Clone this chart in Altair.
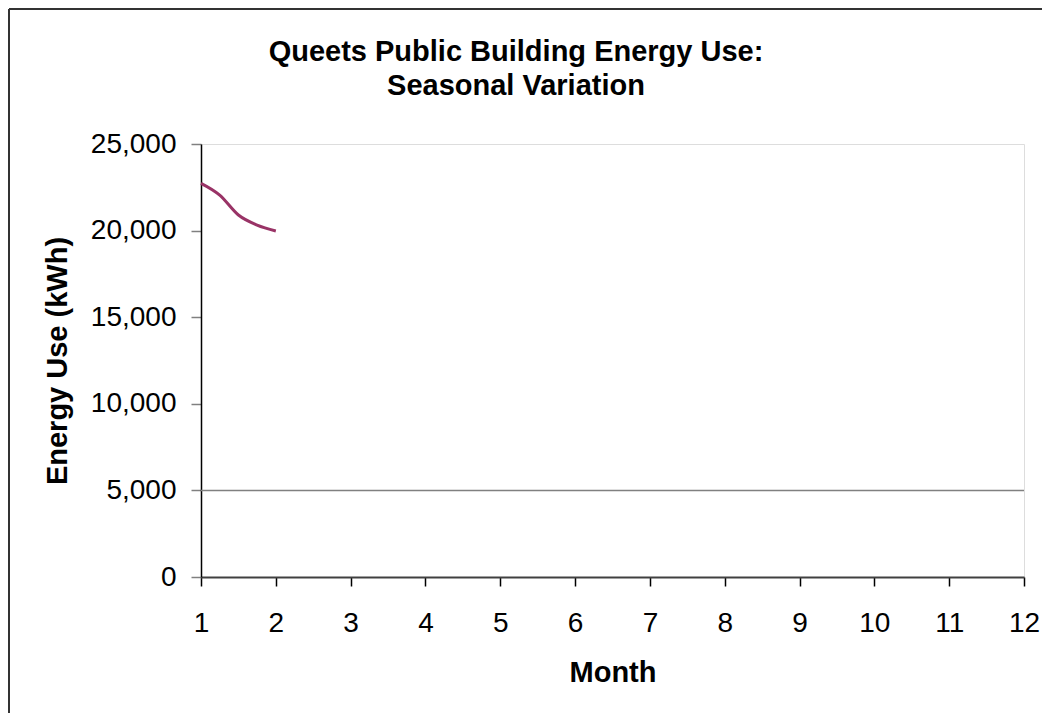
import altair as alt
import pandas as pd

# Data
months = [1, 1.25, 1.5, 1.75, 2]
energy = [22730, 22050, 20900, 20320, 19980]
x_ticks = list(range(1, 13))
y_ticks = [0, 5000, 10000, 15000, 20000, 25000]
grid_values = [5000]

title_lines = ["Queets Public Building Energy Use:", "Seasonal Variation"]
x_title = "Month"
y_title = "Energy Use (kWh)"

FONT = "Liberation Sans"
W, H = 823, 433
PAD_L, PAD_T = 193, 136
PAD_R, PAD_B = 18, 136

df = pd.DataFrame({"month": months, "energy": energy})
grid_df = pd.DataFrame({"g": grid_values})
one = pd.DataFrame({"a": [0]})

xscale = alt.Scale(domain=[1, 12], nice=False, zero=False)
yscale = alt.Scale(domain=[0, 25000], nice=False)

grid = alt.Chart(grid_df).mark_rule(color="#808080", strokeWidth=1.5).encode(
    y=alt.Y("g:Q", scale=yscale)
)

line = alt.Chart(df).mark_line(
    color="#993366", strokeWidth=3, interpolate="monotone"
).encode(
    x=alt.X(
        "month:Q",
        scale=xscale,
        axis=alt.Axis(
            values=x_ticks,
            format="d",
            title=x_title,
            grid=False,
            tickSize=9,
            tickColor="#000000",
            tickWidth=1.5,
            domainColor="#404040",
            domainWidth=2,
            labelPadding=23,
            labelFontSize=28,
            labelFont=FONT,
            labelColor="#000000",
            labelFlush=False,
            labelOverlap=False,
            titleFont=FONT,
            titleFontSize=29,
            titleFontWeight="bold",
            titleColor="#000000",
            titlePadding=21,
        ),
    ),
    y=alt.Y(
        "energy:Q",
        scale=yscale,
        axis=alt.Axis(
            values=y_ticks,
            format=",.0f",
            title=y_title,
            grid=False,
            tickSize=10,
            tickColor="#808080",
            tickWidth=1.5,
            domainColor="#000000",
            domainWidth=1.5,
            labelPadding=15,
            labelFontSize=28,
            labelFont=FONT,
            labelColor="#000000",
            labelFlush=False,
            labelOverlap=False,
            titleFont=FONT,
            titleFontSize=29,
            titleFontWeight="bold",
            titleColor="#000000",
            titlePadding=18,
        ),
    ),
)

title1 = alt.Chart(one).mark_text(
    font=FONT, fontSize=29, fontWeight="bold", color="#000000",
    align="center", baseline="alphabetic"
).encode(x=alt.value(315), y=alt.value(-83), text=alt.value(title_lines[0]))

title2 = alt.Chart(one).mark_text(
    font=FONT, fontSize=29, fontWeight="bold", color="#000000",
    align="center", baseline="alphabetic"
).encode(x=alt.value(315), y=alt.value(-49), text=alt.value(title_lines[1]))

frame_top = alt.Chart(one).mark_rule(color="#333333", strokeWidth=2).encode(
    x=alt.value(-PAD_L + 1), x2=alt.value(W + PAD_R + 5), y=alt.value(-PAD_T + 1)
)
frame_left = alt.Chart(one).mark_rule(color="#333333", strokeWidth=2).encode(
    x=alt.value(-PAD_L + 1), y=alt.value(-PAD_T + 1), y2=alt.value(H + PAD_B + 5)
)

chart = (
    alt.layer(grid, line, title1, title2, frame_top, frame_left)
    .properties(
        width=W,
        height=H,
        autosize=alt.AutoSizeParams(type="none"),
        padding={"left": PAD_L, "top": PAD_T, "right": PAD_R, "bottom": PAD_B},
    )
    .configure_view(stroke="#808080", strokeWidth=2)
    .configure(background="white")
)

chart.save("out.html", embed_options={"renderer": "svg", "actions": False})
